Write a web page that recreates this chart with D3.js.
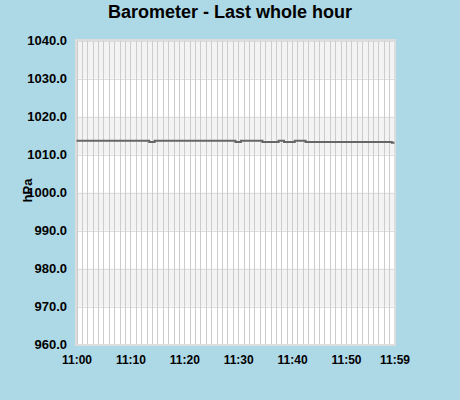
<!DOCTYPE html>
<html>
<head>
<meta charset="utf-8">
<script src="https://cdn.jsdelivr.net/npm/d3@7"></script>
<style>
  html, body { margin: 0; padding: 0; background: #ADD8E6; }
  svg { display: block; font-family: "Liberation Sans", Arial, sans-serif; }
</style>
</head>
<body>
<svg id="chart" width="460" height="400"></svg>
<script>
const title = "Barometer - Last whole hour";
const yLabel = "hPa";
const minutes = [
  "11:00","11:01","11:02","11:03","11:04","11:05","11:06","11:07","11:08","11:09",
  "11:10","11:11","11:12","11:13","11:14","11:15","11:16","11:17","11:18","11:19",
  "11:20","11:21","11:22","11:23","11:24","11:25","11:26","11:27","11:28","11:29",
  "11:30","11:31","11:32","11:33","11:34","11:35","11:36","11:37","11:38","11:39",
  "11:40","11:41","11:42","11:43","11:44","11:45","11:46","11:47","11:48","11:49",
  "11:50","11:51","11:52","11:53","11:54","11:55","11:56","11:57","11:58","11:59"
];
const pressure = [
  1013.6,1013.6,1013.6,1013.6,1013.6,1013.6,1013.6,1013.6,1013.6,1013.6,
  1013.6,1013.6,1013.6,1013.6,1013.3,1013.6,1013.6,1013.6,1013.6,1013.6,
  1013.6,1013.6,1013.6,1013.6,1013.6,1013.6,1013.6,1013.6,1013.6,1013.6,
  1013.3,1013.6,1013.6,1013.6,1013.6,1013.3,1013.3,1013.3,1013.6,1013.3,
  1013.3,1013.6,1013.6,1013.3,1013.3,1013.3,1013.3,1013.3,1013.3,1013.3,
  1013.3,1013.3,1013.3,1013.3,1013.3,1013.3,1013.3,1013.3,1013.3,1013.1
];
const xTickLabels = ["11:00","11:10","11:20","11:30","11:40","11:50","11:59"];
const yTickValues = [960, 970, 980, 990, 1000, 1010, 1020, 1030, 1040];

const svg = d3.select("#chart");
const L = 76.5, R = 394.5, T = 40.5, B = 344.5;

const x = d3.scalePoint().domain(minutes).range([L, R]).padding(0);
const y = d3.scaleLinear().domain([960, 1040]).range([B, T]);

// plot background
svg.append("rect").attr("x", L).attr("y", T).attr("width", R - L).attr("height", B - T)
  .attr("fill", "#ffffff");

// alternating bands
const bands = [];
for (let i = 0; i < yTickValues.length - 1; i++) {
  if ((yTickValues.length - 2 - i) % 2 === 0) bands.push([yTickValues[i], yTickValues[i + 1]]);
}
svg.append("g").selectAll("rect").data(bands).join("rect")
  .attr("x", L).attr("width", R - L)
  .attr("y", d => y(d[1])).attr("height", d => y(d[0]) - y(d[1]))
  .attr("fill", "#f3f3f3");

// horizontal grid
svg.append("g").selectAll("line").data(yTickValues).join("line")
  .attr("x1", L).attr("x2", R)
  .attr("y1", d => Math.round(y(d)) + 0.5).attr("y2", d => Math.round(y(d)) + 0.5)
  .attr("stroke", "#dddddd").attr("stroke-width", 1);

// vertical grid
svg.append("g").selectAll("line").data(minutes).join("line")
  .attr("x1", d => Math.round(x(d)) + 0.5).attr("x2", d => Math.round(x(d)) + 0.5)
  .attr("y1", T).attr("y2", B)
  .attr("stroke", "#cccccc").attr("stroke-width", 1);

// border
svg.append("rect").attr("x", L - 0.5).attr("y", T - 0.5).attr("width", R - L + 1).attr("height", B - T + 1)
  .attr("fill", "none").attr("stroke", "#dddddd").attr("stroke-width", 2);

// line
const line = d3.line().x((d, i) => x(minutes[i])).y(d => y(d)).curve(d3.curveStep);
svg.append("path").datum(pressure)
  .attr("d", line)
  .attr("fill", "none").attr("stroke", "#666666").attr("stroke-width", 2);

// y label
svg.append("text")
  .attr("transform", `translate(32,${(T + B) / 2 - 2}) rotate(-90)`)
  .attr("text-anchor", "middle")
  .attr("font-size", 13).attr("font-weight", "bold").attr("fill", "#000")
  .text(yLabel);

// y axis
const yAxis = svg.append("g").attr("transform", `translate(${L},0)`)
  .call(d3.axisLeft(y).tickValues(yTickValues).tickFormat(d3.format(".1f")).tickSize(0).tickPadding(9.5));
yAxis.select(".domain").remove();
yAxis.selectAll("text").attr("font-size", 13).attr("font-weight", "bold").attr("fill", "#000")
  .attr("font-family", "Liberation Sans, Arial, sans-serif");

// x axis
const xAxis = svg.append("g").attr("transform", `translate(0,${B})`)
  .call(d3.axisBottom(x).tickValues(xTickLabels).tickSize(0).tickPadding(11));
xAxis.select(".domain").remove();
xAxis.selectAll("text").attr("font-size", 12).attr("font-weight", "bold").attr("fill", "#000")
  .attr("font-family", "Liberation Sans, Arial, sans-serif");

// title
svg.append("text").attr("x", 230).attr("y", 18)
  .attr("text-anchor", "middle")
  .attr("font-size", 18).attr("font-weight", "bold").attr("fill", "#000")
  .text(title);
</script>
</body>
</html>
